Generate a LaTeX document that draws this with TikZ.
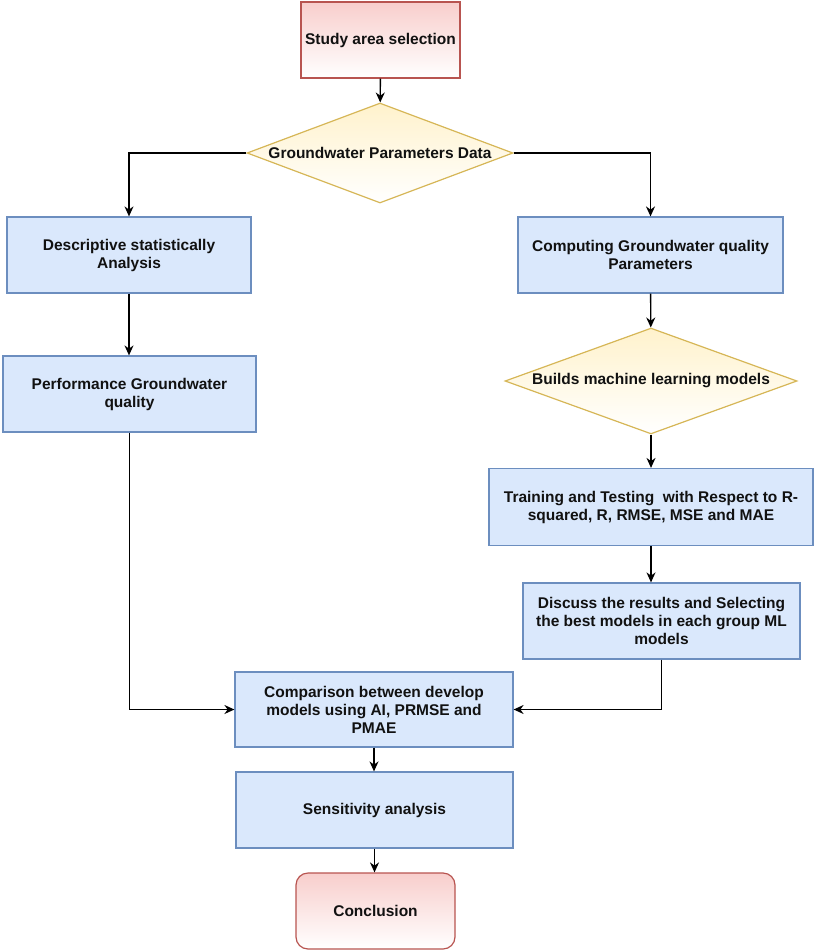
\documentclass[tikz,border=0pt]{standalone}
\usepackage{fontspec}
\setmainfont{Liberation Sans}
\usetikzlibrary{shapes.geometric,arrows.meta}
\definecolor{bfill}{HTML}{DAE8FC}
\definecolor{bdraw}{HTML}{6C8EBF}
\definecolor{pfill}{HTML}{F8CECC}
\definecolor{pdraw}{HTML}{B85450}
\definecolor{yfill}{HTML}{FFF2CC}
\definecolor{ydraw}{HTML}{D6B656}
\definecolor{txt}{HTML}{111111}
\begin{document}
\begin{tikzpicture}[x=1pt,y=-1pt,
 every node/.style={font=\fontsize{15.5}{18}\selectfont\bfseries, text=txt, align=center},
 bluebox/.style={rectangle, draw=bdraw, fill=bfill, line width=1.2pt, inner sep=0pt},
 pinkbox/.style={rectangle, draw=pdraw, top color=pfill, bottom color=white, line width=1.2pt, inner sep=0pt},
 ydia/.style={diamond, draw=ydraw, top color=yfill, bottom color=white, line width=1.2pt, inner sep=0pt, shape aspect=2.6},
 arr/.style={-{Stealth[length=10pt,width=9pt]}, line width=1.4pt, black}]
\useasboundingbox (0,0) rectangle (816,952);
\node[pinkbox, minimum width=159pt, minimum height=76pt] (study) at (380.5,40) {Study area selection};
\node[ydia, minimum width=266pt, minimum height=100pt] (gpd) at (380,153) {Groundwater Parameters Data};
\node[bluebox, minimum width=244pt, minimum height=76pt] (desc) at (129,255) {Descriptive statistically\\Analysis};
\node[bluebox, minimum width=253pt, minimum height=76pt] (perf) at (129.5,394) {Performance Groundwater\\quality};
\node[bluebox, minimum width=265pt, minimum height=76pt] (comp) at (650.5,255) {Computing Groundwater quality\\Parameters};
\node[ydia, minimum width=292pt, minimum height=100pt] (build) at (651,381) {Builds machine learning models};
\node[bluebox, minimum width=324pt, minimum height=77pt] (train) at (651,507) {Training and Testing\ \ with Respect to R-\\squared, R, RMSE, MSE and MAE};
\node[bluebox, minimum width=277pt, minimum height=76pt] (disc) at (661.5,621) {Discuss the results and Selecting\\the best models in each group ML\\models};
\node[bluebox, minimum width=278pt, minimum height=75pt] (cmp) at (374,709.5) {Comparison between develop\\models using AI, PRMSE and\\PMAE};
\node[bluebox, minimum width=277pt, minimum height=76pt] (sens) at (374.5,810) {Sensitivity analysis};
\node[pinkbox, rounded corners=12pt, minimum width=159pt, minimum height=76pt] (concl) at (375.5,911) {Conclusion};
\draw[arr] (study) -- (gpd);
\draw[arr] (gpd.west) -| (desc.north);
\draw[arr] (gpd.east) -| (comp.north);
\draw[arr] (desc) -- (desc |- perf.north);
\draw[arr] (comp) -- (build);
\draw[arr] (build) -- (train);
\draw[arr] (train.south) -- (train.south |- disc.north);
\draw[arr] (disc.south) |- (cmp.east);
\draw[arr] (perf.south) |- (cmp.west);
\draw[arr] (cmp) -- (cmp |- sens.north);
\draw[arr] (sens) -- (sens |- concl.north);
\end{tikzpicture}
\end{document}
